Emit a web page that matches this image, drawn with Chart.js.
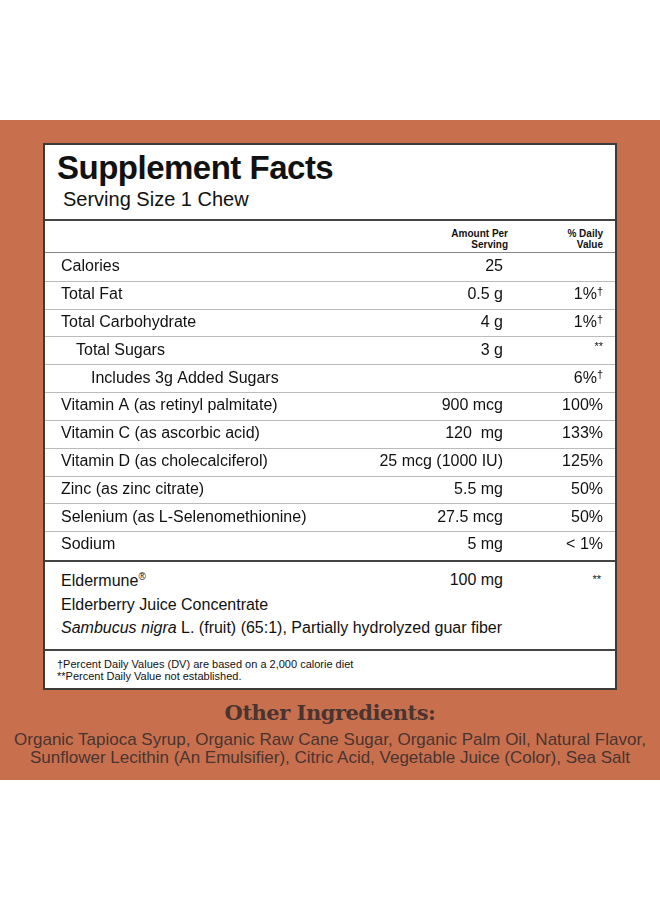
<!DOCTYPE html>
<html><head><meta charset="utf-8">
<script src="https://cdn.jsdelivr.net/npm/chart.js@4"></script>
<style>
body{margin:0;width:660px;height:900px;background:#fff;position:relative;font-family:"Liberation Sans",Arial,sans-serif;overflow:hidden}
.band{position:absolute;left:0;top:120px;width:660px;height:660px;background:#C8704E}
.box{position:absolute;left:43px;top:143px;width:570px;height:543px;background:#fff;border:2px solid #3d3a3a}
.abs{position:absolute;color:#111;white-space:nowrap}
.hr{position:absolute;left:0;width:570px}
</style></head><body>
<div class="band"></div>
<div class="box">
  <div class="abs" style="left:12px;top:4px;font-size:33px;font-weight:bold;letter-spacing:-0.5px">Supplement Facts</div>
  <div class="abs" style="left:18px;top:43px;font-size:20px">Serving Size 1 Chew</div>
  <div class="hr" style="top:74px;border-top:2px solid #444"></div>
  <div class="abs" style="right:107px;top:83px;font-size:10px;font-weight:bold;text-align:right;line-height:11px">Amount Per<br>Serving</div>
  <div class="abs" style="right:12px;top:83px;font-size:10px;font-weight:bold;text-align:right;line-height:11px">% Daily<br>Value</div>
  <div class="hr" style="top:107px;border-top:1px solid #888"></div>
  <div class="hr" style="top:415px;border-top:2px solid #444"></div>
  <div class="abs" style="left:16px;top:426px;font-size:16px">Eldermune<sup style="font-size:10px">®</sup></div>
  <div class="abs" style="right:112px;top:426px;font-size:16px">100 mg</div>
  <div class="abs" style="right:14px;top:428px;font-size:11px">**</div>
  <div class="abs" style="left:16px;top:451px;font-size:16px">Elderberry Juice Concentrate</div>
  <div class="abs" style="left:16px;top:474px;font-size:16px"><i>Sambucus nigra</i> L. (fruit) (65:1), Partially hydrolyzed guar fiber</div>
  <div class="hr" style="top:504px;border-top:2px solid #444"></div>
  <div class="abs" style="left:12px;top:513px;font-size:11px;line-height:12px">†Percent Daily Values (DV) are based on a 2,000 calorie diet<br>**Percent Daily Value not established.</div>
</div>
<div class="abs" style="left:0;width:660px;text-align:center;top:700px;font-family:'DejaVu Serif',serif;font-weight:bold;font-size:21px;color:#4a3430;letter-spacing:-0.5px">Other Ingredients:</div>
<div class="abs" style="left:0;width:660px;text-align:center;top:731px;font-family:'Liberation Sans Narrow','Liberation Sans',sans-serif;font-size:17px;line-height:18px;color:#4a3430">Organic Tapioca Syrup, Organic Raw Cane Sugar, Organic Palm Oil, Natural Flavor,<br>Sunflower Lecithin (An Emulsifier), Citric Acid, Vegetable Juice (Color), Sea Salt</div>
<canvas id="c" width="570" height="306" style="position:absolute;left:45px;top:253px"></canvas>
<script>
const nutrients=["Calories","Total Fat","Total Carbohydrate","Total Sugars","Includes 3g Added Sugars","Vitamin A (as retinyl palmitate)","Vitamin C (as ascorbic acid)","Vitamin D (as cholecalciferol)","Zinc (as zinc citrate)","Selenium (as L-Selenomethionine)","Sodium"];
const indentLevel=[0,0,0,1,2,0,0,0,0,0,0];
const amounts=["25","0.5 g","4 g","3 g","","900 mcg","120  mg","25 mcg (1000 IU)","5.5 mg","27.5 mcg","5 mg"];
const dailyValues=["","1%†","1%†","**","6%†","100%","133%","125%","50%","50%","< 1%"];
const rowText={id:'rowText',afterDraw(ch){
  const c=ch.ctx,y=ch.scales.y,W=ch.width;
  const band=y.getPixelForValue(1)-y.getPixelForValue(0);
  c.save();c.textBaseline='middle';c.fillStyle='#111';
  nutrients.forEach((n,i)=>{
    const py=y.getPixelForValue(i);
    c.font='16px "Liberation Sans", Arial, sans-serif';
    c.textAlign='left';c.fillText(n,16+indentLevel[i]*15,py);
    c.textAlign='right';c.fillText(amounts[i],458,py);
    const dv=dailyValues[i];
    if(dv.endsWith('†')){c.font='11px "Liberation Sans"';c.fillText('†',558,py-3);const w=c.measureText('†').width;c.font='16px "Liberation Sans"';c.fillText(dv.slice(0,-1),558-w,py);}
    else if(dv==='**'){c.font='11px "Liberation Sans"';c.fillText(dv,558,py-3);}
    else c.fillText(dv,558,py);
    if(i<nutrients.length-1){c.strokeStyle='#bbb';c.lineWidth=1;c.beginPath();c.moveTo(0,Math.round(py+band/2)+0.5);c.lineTo(W,Math.round(py+band/2)+0.5);c.stroke();}
  });
  c.restore();
}};
new Chart(document.getElementById('c'),{type:'bar',
  data:{labels:nutrients,datasets:[{data:amounts.map(()=>0),backgroundColor:'transparent'}]},
  options:{indexAxis:'y',responsive:false,animation:false,layout:{padding:0},
    plugins:{legend:{display:false},tooltip:{enabled:false}},
    scales:{y:{type:'category',display:false,offset:true},x:{display:false,min:0,max:1}}},
  plugins:[rowText]});
</script>
</body></html>
